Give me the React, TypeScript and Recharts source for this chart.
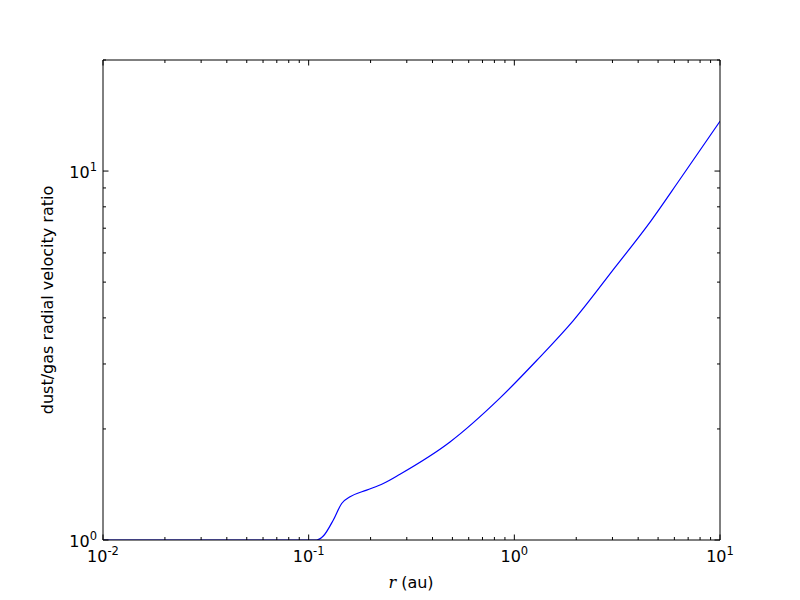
import React from "react";
import { LineChart, Line, XAxis, YAxis } from "recharts";

const radius = [0.01, 0.05, 0.1, 0.1094, 0.1178, 0.1318, 0.1447, 0.1589, 0.1914, 0.2306, 0.278, 0.4866, 0.848, 1.284, 1.935, 3.087, 4.618, 6.39, 10];
const ratio = [1, 1, 1, 1.0, 1.025, 1.133, 1.256, 1.309, 1.365, 1.423, 1.508, 1.844, 2.42, 3.065, 3.932, 5.48, 7.33, 9.5, 13.65];

const xMajor = [0.01, 0.1, 1, 10];
const xExponents = ["-2", "-1", "0", "1"];
const yMajor = [1, 10];
const yExponents = ["0", "1"];
const mantissas = [1, 2, 3, 4, 5, 6, 7, 8, 9];

const data = radius.map((r, i) => ({ r, v: ratio[i] }));

const xTicks: number[] = [];
[-2, -1, 0].forEach((d) => mantissas.forEach((m) => xTicks.push(+(m * Math.pow(10, d)).toPrecision(3))));
xTicks.push(10);
const yTicks: number[] = [];
mantissas.forEach((m) => yTicks.push(m));
yTicks.push(10, 20);

const LEFT = 103;
const RIGHT = 720;
const TOP = 60;
const BOTTOM = 540;
const MAJ = 5.5;
const MIN = 3;
const FONT = "DejaVu Sans, sans-serif";

const isMajor = (v: number, majors: number[]) => majors.some((m) => Math.abs(m - v) / m < 1e-6);

const BottomTick = (props: any) => {
  const { x, payload } = props;
  const v = payload.value;
  const maj = isMajor(v, xMajor);
  const idx = xMajor.findIndex((m) => Math.abs(m - v) / m < 1e-6);
  return (
    <g>
      <line x1={x} x2={x} y1={BOTTOM} y2={BOTTOM - (maj ? MAJ : MIN)} stroke="#000" strokeWidth={1} />
      {maj && (
        <text x={x} y={562} textAnchor="middle" fontFamily={FONT} fontSize={16} fill="#000">
          <tspan>10</tspan>
          <tspan dy={-7} fontSize={11.5}>{xExponents[idx]}</tspan>
        </text>
      )}
    </g>
  );
};

const TopTick = (props: any) => {
  const { x, payload } = props;
  const maj = isMajor(payload.value, xMajor);
  return <line x1={x} x2={x} y1={TOP} y2={TOP + (maj ? MAJ : MIN)} stroke="#000" strokeWidth={1} />;
};

const LeftTick = (props: any) => {
  const { y, payload } = props;
  const v = payload.value;
  const maj = isMajor(v, yMajor);
  const idx = yMajor.findIndex((m) => Math.abs(m - v) / m < 1e-6);
  return (
    <g>
      <line x1={LEFT} x2={LEFT + (maj ? MAJ : MIN)} y1={y} y2={y} stroke="#000" strokeWidth={1} />
      {maj && (
        <text x={97} y={y + 7} textAnchor="end" fontFamily={FONT} fontSize={16} fill="#000">
          <tspan>10</tspan>
          <tspan dy={-7} fontSize={11.5}>{yExponents[idx]}</tspan>
        </text>
      )}
    </g>
  );
};

const RightTick = (props: any) => {
  const { y, payload } = props;
  const maj = isMajor(payload.value, yMajor);
  return <line x1={RIGHT} x2={RIGHT - (maj ? MAJ : MIN)} y1={y} y2={y} stroke="#000" strokeWidth={1} />;
};

export default function App() {
  return (
    <div style={{ position: "absolute", left: 0, top: 0, width: 800, height: 600, background: "#fff" }}>
      <LineChart width={800} height={600} data={data} margin={{ top: 0, right: 0, bottom: 0, left: 0 }}>
        <XAxis
          xAxisId="bottom"
          dataKey="r"
          type="number"
          scale="log"
          domain={[0.01, 10]}
          ticks={xTicks}
          interval={0}
          allowDataOverflow
          orientation="bottom"
          height={60}
          tickLine={false}
          axisLine={{ stroke: "#000", strokeWidth: 1 }}
          tick={<BottomTick />}
        />
        <XAxis
          xAxisId="top"
          dataKey="r"
          type="number"
          scale="log"
          domain={[0.01, 10]}
          ticks={xTicks}
          interval={0}
          allowDataOverflow
          orientation="top"
          height={60}
          tickLine={false}
          axisLine={{ stroke: "#000", strokeWidth: 1 }}
          tick={<TopTick />}
        />
        <YAxis
          yAxisId="left"
          type="number"
          scale="log"
          domain={[1, 20]}
          ticks={yTicks}
          interval={0}
          allowDataOverflow
          orientation="left"
          width={103}
          tickLine={false}
          axisLine={{ stroke: "#000", strokeWidth: 1 }}
          tick={<LeftTick />}
        />
        <YAxis
          yAxisId="right"
          type="number"
          scale="log"
          domain={[1, 20]}
          ticks={yTicks}
          interval={0}
          allowDataOverflow
          orientation="right"
          width={80}
          tickLine={false}
          axisLine={{ stroke: "#000", strokeWidth: 1 }}
          tick={<RightTick />}
        />
        <Line
          xAxisId="bottom"
          yAxisId="left"
          dataKey="v"
          type="monotone"
          stroke="#0000ff"
          strokeWidth={1.2}
          dot={false}
          isAnimationActive={false}
        />
      </LineChart>
      <div
        style={{
          position: "absolute",
          left: 0,
          top: 0,
          width: 800,
          height: 600,
          pointerEvents: "none",
        }}
      >
        <svg width={800} height={600}>
          <text
            x={47}
            y={300}
            transform="rotate(-90 47 300)"
            textAnchor="middle"
            dominantBaseline="central"
            fontFamily={FONT}
            fontSize={16}
            fill="#000"
          >
            dust/gas radial velocity ratio
          </text>
          <text x={411} y={588} textAnchor="middle" fontFamily={FONT} fontSize={16} fill="#000">
            <tspan fontFamily="DejaVu Serif, serif" fontStyle="italic">r</tspan>
            <tspan> (au)</tspan>
          </text>
        </svg>
      </div>
    </div>
  );
}
